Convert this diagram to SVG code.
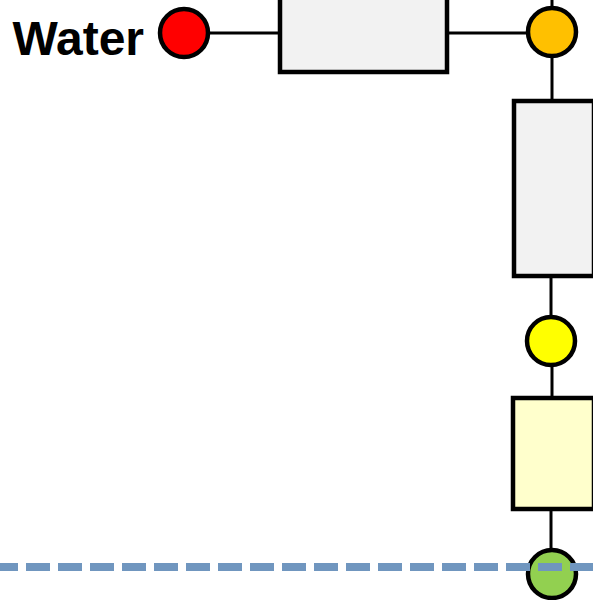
<svg xmlns="http://www.w3.org/2000/svg" width="593" height="600" viewBox="0 0 593 600">
<style>
.conn{stroke:#000;stroke-width:3;fill:none}
.box{stroke:#000;stroke-width:4.5}
.node{stroke:#000;stroke-width:4.5}
.lbl{font-family:"Liberation Sans",Arial,sans-serif;font-weight:bold;font-size:48px;fill:#000}
</style>
<rect width="593" height="600" fill="#fff"/>
<g id="connectors">
<line class="conn" x1="208" y1="33" x2="280" y2="33"/>
<line class="conn" x1="447" y1="33" x2="528" y2="33"/>
<line class="conn" x1="552" y1="0" x2="552" y2="10"/>
<line class="conn" x1="552" y1="55" x2="552" y2="101"/>
<line class="conn" x1="551" y1="276" x2="551" y2="318"/>
<line class="conn" x1="552" y1="364" x2="552" y2="398"/>
<line class="conn" x1="551" y1="509" x2="551" y2="551"/>
</g>
<g id="water-label"><text class="lbl" x="144" y="55" text-anchor="end">Water</text></g>
<g id="node-red"><circle class="node" cx="184" cy="33" r="24" fill="#FF0000"/></g>
<g id="box1"><rect class="box" x="280" y="-10" width="167" height="82" fill="#F2F2F2"/></g>
<g id="node-orange"><circle class="node" cx="552" cy="32" r="24" fill="#FFC000"/></g>
<g id="box2"><rect class="box" x="514" y="101" width="80" height="175" fill="#F2F2F2"/></g>
<g id="node-yellow"><circle class="node" cx="551" cy="341" r="24" fill="#FFFF00"/></g>
<g id="box3"><rect class="box" x="513" y="398" width="81" height="111" fill="#FFFFCC"/></g>
<g id="node-green"><circle class="node" cx="552" cy="574" r="24" fill="#92D050"/></g>
<g id="dashed-line"><line x1="0" y1="567" x2="593" y2="567" stroke="#7096BF" stroke-width="8" stroke-dasharray="24 8" stroke-dashoffset="6"/></g>
</svg>
